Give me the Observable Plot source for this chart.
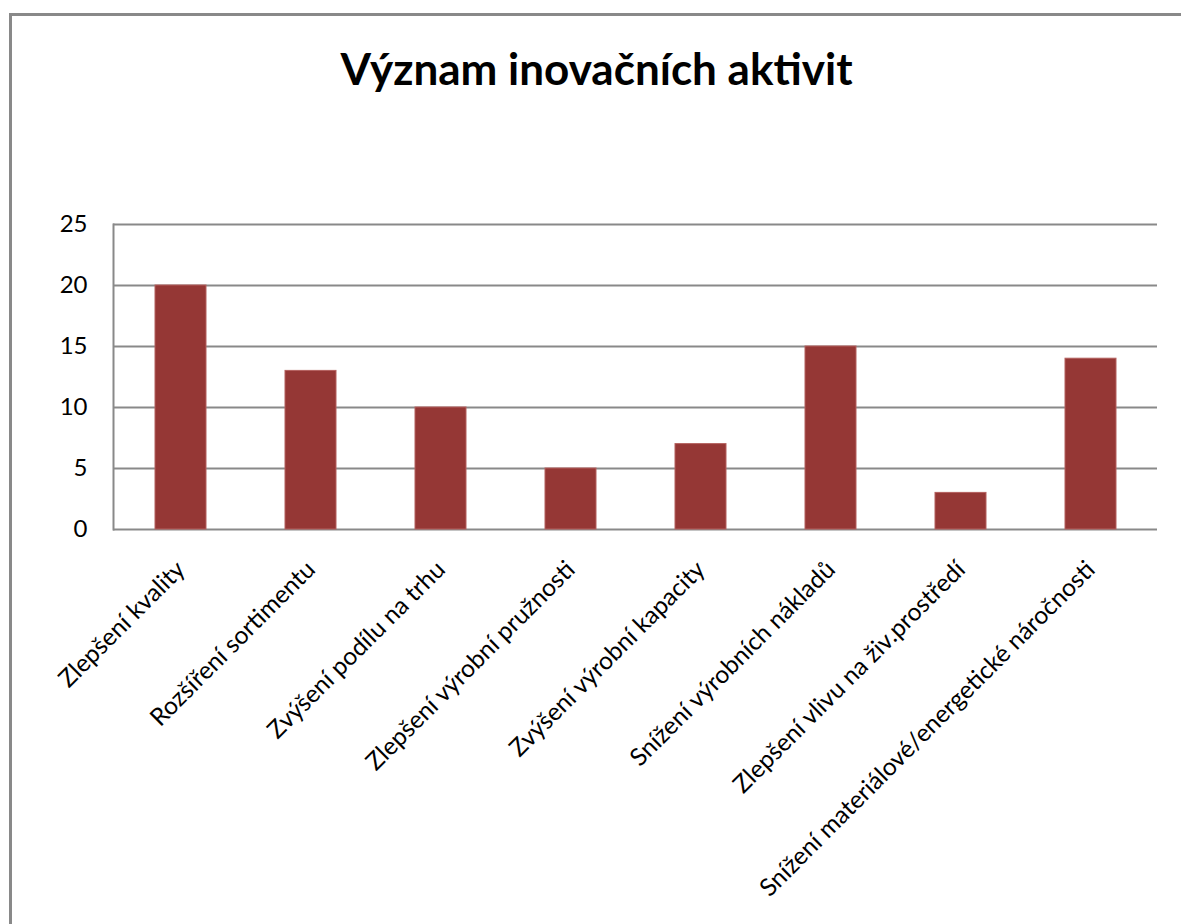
<!DOCTYPE html>
<html>
<head>
<meta charset="utf-8">
<script src="https://cdn.jsdelivr.net/npm/d3@7"></script>
<script src="https://cdn.jsdelivr.net/npm/@observablehq/plot@0.6"></script>
<style>
  html, body { margin: 0; padding: 0; background: #fff; overflow: hidden; width: 1181px; height: 924px; }
  #box { position: absolute; left: 9px; top: 13px; width: 1300px; height: 1000px; border: 3px solid #898989; box-sizing: border-box; background: #fff; }
  #title { height: 104px; display: flex; align-items: center; justify-content: center; width: 1169px;
           font-family: Lato, sans-serif; font-weight: bold; font-size: 44px; color: #000; }
</style>
</head>
<body>
<div id="box">
  <div id="title">Význam inovačních aktivit</div>
  <div id="chart"></div>
</div>
<script>
const categories = [
  "Zlepšení kvality",
  "Rozšíření sortimentu",
  "Zvýšení podílu na trhu",
  "Zlepšení výrobní pružnosti",
  "Zvýšení výrobní kapacity",
  "Snížení výrobních nákladů",
  "Zlepšení vlivu na živ.prostředí",
  "Snížení materiálové/energetické náročnosti"
];
const values = [20, 13, 10, 5, 7, 15, 3, 14];
const yTicks = [0, 5, 10, 15, 20, 25];

const data = categories.map((c, i) => ({category: c, value: values[i]}));

const chart = Plot.plot({
  width: 1169,
  height: 804,
  marginLeft: 101,
  marginRight: 24,
  marginTop: 104,
  marginBottom: 395,
  style: {fontFamily: "Lato, sans-serif", fontSize: "24px", color: "#000", background: "#fff"},
  x: {domain: categories, paddingInner: 0.61, paddingOuter: 0.305, label: null},
  y: {domain: [0, 25], ticks: yTicks, label: null},
  marks: [
    Plot.gridY(yTicks, {stroke: "#898989", strokeOpacity: 1, strokeWidth: 2}),
    Plot.frame({anchor: "left", stroke: "#898989", strokeWidth: 2}),
    Plot.barY(data, {x: "category", y: "value", fill: "#953735", stroke: "#b4605e", strokeWidth: 1}),
    Plot.axisY(yTicks, {tickSize: 0, tickPadding: 26, fontSize: 24, fill: "#000"}),
    Plot.axisX({tickSize: 0, tickRotate: -45, tickPadding: 36, fontSize: 24.5, fill: "#000", textOverflow: null, lineWidth: Infinity})
  ]
});
document.getElementById("chart").appendChild(chart);
</script>
</body>
</html>
